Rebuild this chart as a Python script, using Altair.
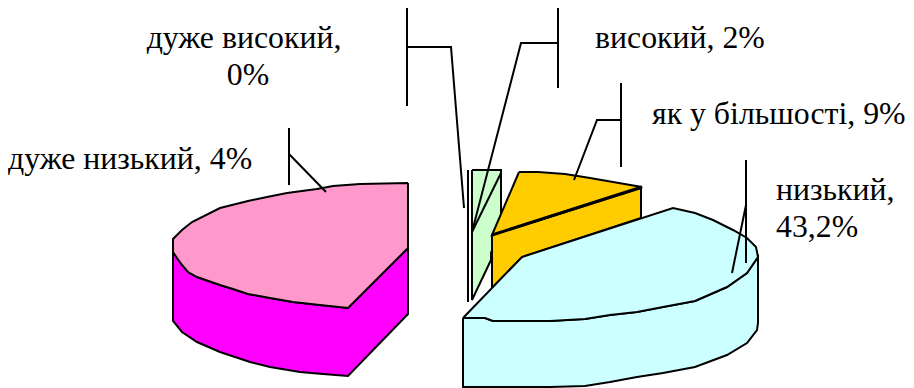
import altair as alt
import pandas as pd

# Outlines (x, y in picture pixels)
magenta_x = [173,173,182,197,220,250,270,300,323,348,408,408,348,320,293,270,248,233,220,197,188,182,177,173]
magenta_y = [252,321,332,342,352,362,367,372,374,376,314,248,308,305,302,298,294,289,285,277,272,265,258,252]
pink_x = [408,360,333,317,287,267,248,220,192,182,173,173,177,182,188,197,220,233,248,270,293,320,348,408,408]
pink_y = [183,184,186,189,193,197,201,208,222,230,239,252,258,265,272,277,285,289,294,298,302,305,308,248,183]
cyan_side_x = [463,463,490,550,585,610,637,663,695,727,747,757,758,758,747,727,695,663,637,610,585,550,493,485,463]
cyan_side_y = [318,387,387,387,386,382,377,373,367,355,343,330,323,257,273,287,301,307,312,315,319,321,321,318,318]
cyan_top_x = [463,522,673,695,713,733,747,756,758,747,727,695,663,637,610,585,550,493,485,463]
cyan_top_y = [318,257,208,213,220,230,238,247,257,273,287,301,307,312,315,319,321,321,318,318]
orange_top_x = [519,538,565,590,613,642,492]
orange_top_y = [172,172,174,178,182,187,235]
orange_side_x = [492,492,522,641,641]
orange_side_y = [235,288,257,218,188]
green_x = [472,501,501,491,491,472]
green_y = [170,170,227,253,260,300]
green_diag_x = [501,472]
green_diag_y = [173,232]
zero_x = [468,468]
zero_y = [170,302]
leader_x = [[407,407],[407,451,464],[558,558],[558,521,472],[621,621],[621,597,574],[746,746],[746,732],[289,289],[289,326]]
leader_y = [[8,106],[47,47,208],[8,88],[43,43,232],[83,167],[120,120,180],[160,263],[205,273],[128,185],[154,192]]
label_text = ["дуже високий,","0%","високий, 2%","як у більшості, 9%","дуже низький, 4%","низький,","43,2%"]
label_x = [244,248,595,652,8,776,776]
label_y = [48,85,48,124,169,200,237]
label_align = ["center","center","left","left","left","left","left"]

PAD_W, PAD_H = 898, 380
xs = alt.Scale(domain=[8, 8 + PAD_W], range=[0, PAD_W])
ys = alt.Scale(domain=[8, 8 + PAD_H], range=[0, PAD_H])
X = alt.X("x:Q", scale=xs, axis=None)
Y = alt.Y("y:Q", scale=ys, axis=None)


def poly(xv, yv, fill, sw=2):
    df = pd.DataFrame({"x": xv + xv[:1], "y": yv + yv[:1], "i": range(len(xv) + 1)})
    return alt.Chart(df).mark_line(fill=fill, stroke="black", strokeWidth=sw, clip=False).encode(
        x=X, y=Y, order="i:Q")


def line(xv, yv, sw=2):
    df = pd.DataFrame({"x": xv, "y": yv, "i": range(len(xv))})
    return alt.Chart(df).mark_line(color="black", strokeWidth=sw, clip=False).encode(
        x=X, y=Y, order="i:Q")


layers = [
    poly(magenta_x, magenta_y, "#FF00FF"),
    poly(pink_x, pink_y, "#FF99CC"),
    line(zero_x, zero_y, 2),
    poly(green_x, green_y, "#CCFFCC"),
    line(green_diag_x, green_diag_y, 2),
    poly(orange_side_x, orange_side_y, "#FFCC00"),
    poly(orange_top_x, orange_top_y, "#FFCC00"),
    line([492, 642], [235, 187], 3),
    poly(cyan_side_x, cyan_side_y, "#CCFFFF"),
    poly(cyan_top_x, cyan_top_y, "#CCFFFF"),
]
for lx, ly in zip(leader_x, leader_y):
    layers.append(line(lx, ly))

for align in ["left", "center"]:
    d = pd.DataFrame({"t": label_text, "x": label_x, "y": label_y, "a": label_align})
    d = d[d.a == align]
    layers.append(alt.Chart(d).mark_text(
        font="Liberation Serif", fontSize=31.8, align=align, baseline="alphabetic",
        color="black", clip=False).encode(x=X, y=Y, text="t:N"))

chart = alt.layer(*layers).properties(
    width=PAD_W, height=PAD_H, padding=0, background="white",
    autosize=alt.AutoSizeParams(type="none")
).configure_view(stroke=None)

chart.save("out.html", embed_options={"renderer": "svg", "actions": False})
